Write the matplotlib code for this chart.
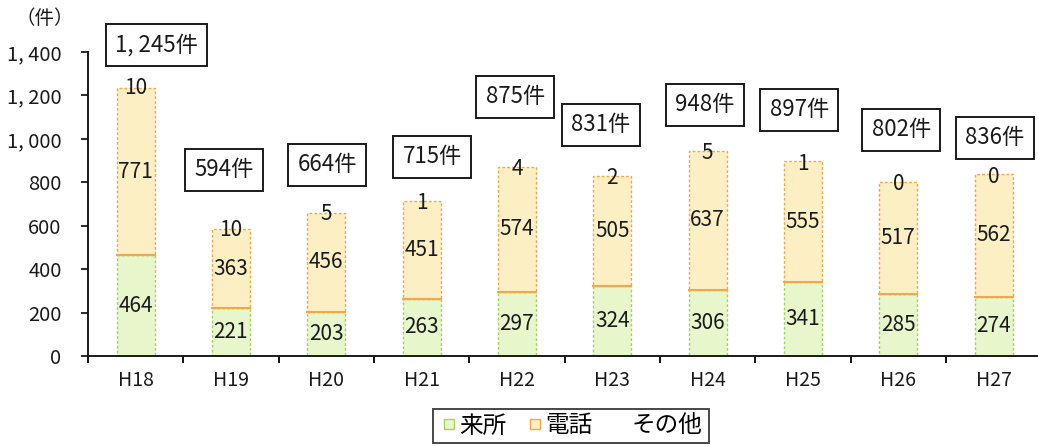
import matplotlib
matplotlib.use("Agg")
import matplotlib.pyplot as plt
from matplotlib.lines import Line2D
from matplotlib.ticker import FixedLocator, FuncFormatter
import numpy as np

plt.rcParams['font.family'] = ['Noto Sans CJK JP', 'DejaVu Sans']

years = ["H18", "H19", "H20", "H21", "H22", "H23", "H24", "H25", "H26", "H27"]
visit = [464, 221, 203, 263, 297, 324, 306, 341, 285, 274]
phone = [771, 363, 456, 451, 574, 505, 637, 555, 517, 562]
other = [10, 10, 5, 1, 4, 2, 5, 1, 0, 0]
totals = [1245, 594, 664, 715, 875, 831, 948, 897, 802, 836]

# placement of the total boxes (x offset from bar, y in data units)
box_dx = [0.22, -0.07, 0.01, 0.11, -0.02, -0.12, -0.03, -0.04, 0.03, 0.01]
box_y = [1432, 857, 880, 917, 1193, 1064, 1156, 1133, 1041, 1004]

fig = plt.figure(figsize=(10.38, 4.46), dpi=100)
ax = fig.add_axes([88/1038, 1 - 356/446, (1038 - 88)/1038, (356 - 52)/446])

x = np.arange(len(years))
w = 0.4
green_fc, green_ec = "#e8f6cc", "#a8d060"
orange_fc, orange_ec = "#fdefc4", "#f0a848"
txt = "#1a1a1a"

ax.bar(x, visit, w, color=green_fc, edgecolor=green_ec, linewidth=1.0, linestyle=(0, (2, 1.5)))
ax.bar(x, phone, w, bottom=visit, color=orange_fc, edgecolor=orange_ec, linewidth=1.0,
       linestyle=(0, (2, 1.5)))
# separator between segments
for xi, v in zip(x, visit):
    ax.plot([xi - w/2, xi + w/2], [v, v], color=orange_ec, lw=1.5)

for xi, v, p, o, t, dx, by in zip(x, visit, phone, other, totals, box_dx, box_y):
    ax.text(xi, v/2, f"{v}", ha="center", va="center", fontsize=15, color=txt)
    ax.text(xi, v + p/2, f"{p}", ha="center", va="center", fontsize=15, color=txt)
    ax.text(xi, t - 12, f"{o}", ha="center", va="center", fontsize=15, color=txt)
    ax.text(xi + dx, by, f"{t:,}件".replace(",", ", "), ha="center", va="center", fontsize=16,
            color=txt,
            bbox=dict(boxstyle="square,pad=0.42", fc="white", ec=txt, lw=1.4))

ax.set_xlim(-0.5, 9.465)
ax.set_ylim(0, 1400)
ax.set_yticks(np.arange(0, 1401, 200))
ax.yaxis.set_major_formatter(FuncFormatter(lambda v, _: f"{int(v):,}".replace(",", ", ")))
ax.set_xticks(x)
ax.set_xticklabels(years)
ax.xaxis.set_minor_locator(FixedLocator(np.arange(-0.5, 10, 1.0)))
ax.tick_params(axis="x", which="major", length=0, labelsize=14, pad=10, colors=txt)
ax.tick_params(axis="x", which="minor", length=5, width=1.3, direction="out")
ax.tick_params(axis="y", length=5, width=1.3, labelsize=14.5, pad=14, colors=txt)
for s in ("top", "right"):
    ax.spines[s].set_visible(False)
for s in ("left", "bottom"):
    ax.spines[s].set_linewidth(1.4)
    ax.spines[s].set_color(txt)

fig.text(45/1038, 1 - 18/446, "（件）", ha="center", va="center", fontsize=14, color=txt)

handles = [
    Line2D([], [], marker="s", ls="none", markersize=7, markerfacecolor=green_fc,
           markeredgecolor=green_ec),
    Line2D([], [], marker="s", ls="none", markersize=7, markerfacecolor=orange_fc,
           markeredgecolor=orange_ec),
    Line2D([], [], marker="s", ls="none", markersize=7, markerfacecolor="none",
           markeredgecolor="none"),
]
leg = fig.legend(handles, ["来所", "電話", "その他"], loc="center", ncol=3,
                 bbox_to_anchor=(571/1038, 1 - 426/446), fontsize=17, frameon=True,
                 fancybox=False, edgecolor=txt, handletextpad=0.05,
                 columnspacing=0.8, handlelength=0.8, borderpad=0.25, borderaxespad=0)
leg.get_frame().set_linewidth(1.4)

fig.savefig("out.png", dpi=100)
